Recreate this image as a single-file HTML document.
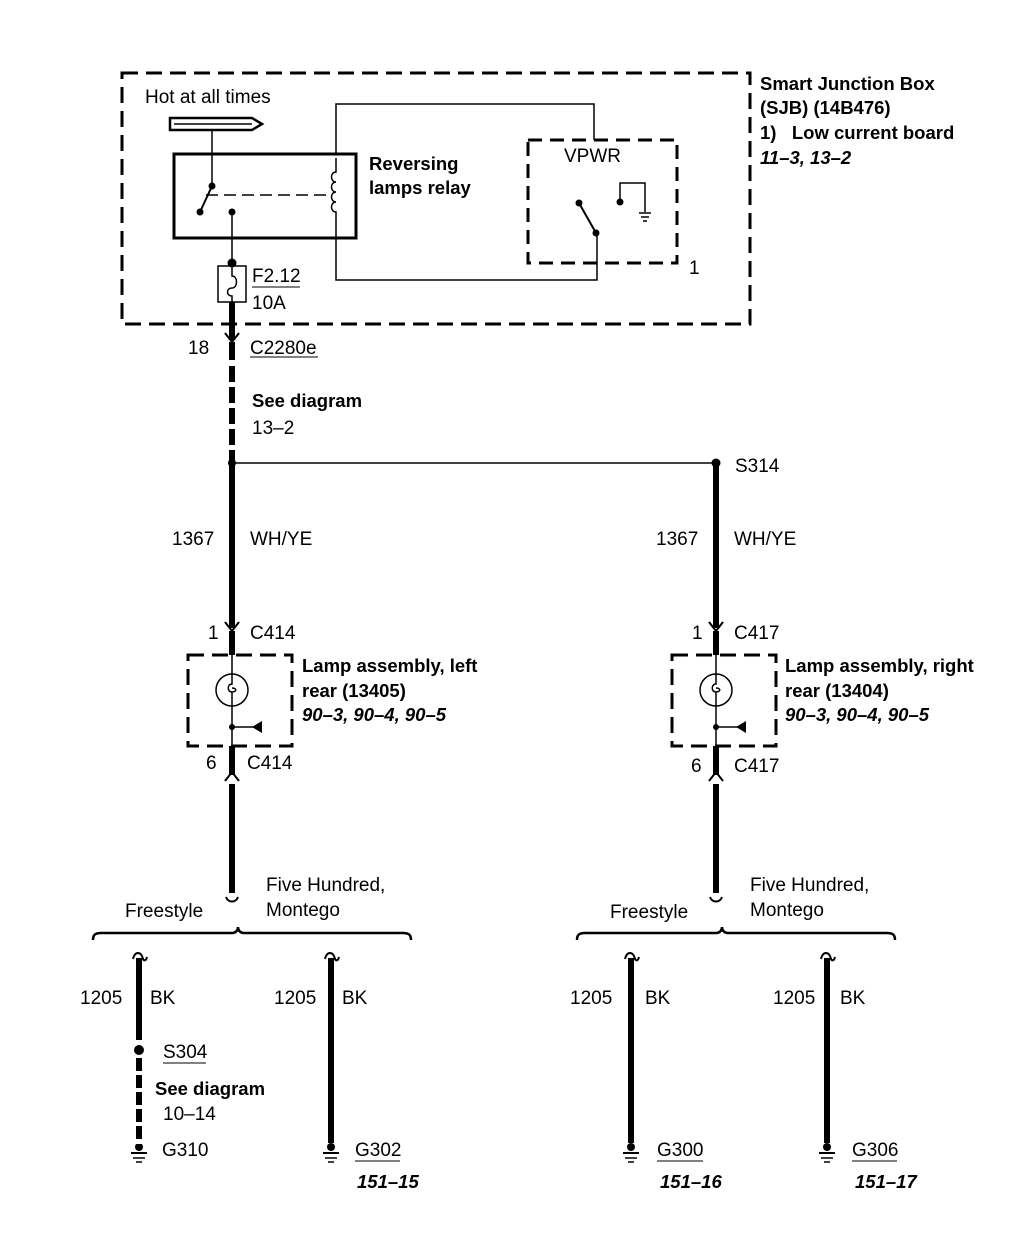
<!DOCTYPE html>
<html><head><meta charset="utf-8"><style>
html,body{margin:0;padding:0;background:#fff;}
svg{display:block;}
text{font-family:"Liberation Sans",Arial,sans-serif;font-size:19px;fill:#000;}
.b{font-weight:bold;font-size:18.5px;}
.i{font-weight:bold;font-style:italic;font-size:18.5px;}
</style></head><body>
<svg width="1022" height="1248" viewBox="0 0 1022 1248" xmlns="http://www.w3.org/2000/svg">
<g fill="none" stroke="#000">
<rect x="122" y="73" width="628" height="251" stroke-width="3" stroke-dasharray="16,8"/>
<path d="M170 118 H252 L262 124 L252 130 H170 Z" stroke-width="2.5"/>
<line x1="174" y1="124" x2="252" y2="124" stroke-width="1.5"/>
<line x1="212" y1="130" x2="212" y2="186" stroke-width="1.5"/>
<rect x="174" y="154" width="182" height="84" stroke-width="3"/>
<line x1="212" y1="186" x2="200" y2="212" stroke-width="2"/>
<line x1="206" y1="195" x2="330" y2="195" stroke-width="1.5" stroke-dasharray="12,6"/>
<path d="M336 158 V172 c-6 0 -6 10 0 10 c-6 0 -6 10 0 10 c-6 0 -6 10 0 10 c-6 0 -6 10 0 10 V238" stroke-width="1.5"/>
<line x1="232" y1="212" x2="232" y2="266" stroke-width="1.5"/>
<polyline points="336,154 336,104 594,104 594,140" stroke-width="1.5"/>
<polyline points="336,238 336,280 597,280 597,235" stroke-width="1.5"/>
<rect x="528" y="140" width="149" height="123" stroke-width="3" stroke-dasharray="14,8"/>
<line x1="579" y1="203" x2="596" y2="233" stroke-width="2"/>
<polyline points="620,202 620,183 645,183 645,212" stroke-width="1.5"/>
<line x1="639" y1="213" x2="651" y2="213" stroke-width="1.5"/>
<line x1="641" y1="217" x2="649" y2="217" stroke-width="1.5"/>
<line x1="643" y1="221" x2="647" y2="221" stroke-width="1.5"/>
<rect x="218" y="266" width="28" height="36" stroke-width="1.5"/>
<path d="M232 266 V276 c6 0 6 12 0 12 c-6 0 -6 8 0 8 V302" stroke-width="1.5"/>
<line x1="232" y1="302" x2="232" y2="340" stroke-width="6"/>
<path d="M225 333 L232 342 L239 333" stroke-width="2"/>
<line x1="232" y1="342" x2="232" y2="360" stroke-width="6"/>
<line x1="232" y1="366" x2="232" y2="460" stroke-width="6" stroke-dasharray="16,5"/>
<line x1="232" y1="463" x2="716" y2="463" stroke-width="1.5"/>
<g id="asm">
<line x1="232" y1="466" x2="232" y2="628" stroke-width="6"/>
<path d="M225 622 L232 631 L239 622" stroke-width="2"/>
<line x1="232" y1="631" x2="232" y2="655" stroke-width="6"/>
<rect x="188" y="655" width="104" height="91" stroke-width="3" stroke-dasharray="16,8"/>
<line x1="232" y1="655" x2="232" y2="746" stroke-width="1.5"/>
<circle cx="232" cy="690" r="16" stroke-width="1.5" fill="#fff"/>
<path d="M232 674 V684 c-5 0 -5 8 0 8 c5 0 5 -4 0 -4 M232 692 V706" stroke-width="1.5"/>
<line x1="232" y1="727" x2="256" y2="727" stroke-width="1.5"/>
<line x1="232" y1="746" x2="232" y2="775" stroke-width="6"/>
<path d="M225 781 L232 772 L239 781" stroke-width="2"/>
<line x1="232" y1="784" x2="232" y2="893" stroke-width="6"/>
<path d="M226 897 c2 6 10 6 12 0" stroke-width="2"/>
<path d="M93 940 c0 -5 2 -7 8 -7 H232 c4 0 6 -3 6 -6 c0 3 2 6 6 6 H403 c6 0 8 2 8 7" stroke-width="2.5"/>
</g>
<use href="#asm" transform="translate(484,0)"/>
</g>
<g fill="#000">
<circle cx="212" cy="186" r="3.5"/><circle cx="200" cy="212" r="3.5"/><circle cx="232" cy="212" r="3.5"/>
<circle cx="232" cy="263" r="4.5"/>
<circle cx="579" cy="203" r="3.5"/><circle cx="596" cy="233" r="3.5"/><circle cx="620" cy="202" r="3.5"/>
<circle cx="232" cy="463" r="4"/><circle cx="716" cy="463" r="4.5"/>
<circle cx="232" cy="727" r="3"/><circle cx="716" cy="727" r="3"/>
<path d="M262 721 L252 727 L262 733 Z"/><path d="M746 721 L736 727 L746 733 Z"/>
</g>
<g id="gw" fill="none" stroke="#000">
<path d="M133 959 c2 -8 8 -8 10 0 c1 2 3 2 4 -2" stroke-width="2"/>
<line x1="139" y1="958" x2="139" y2="1143" stroke-width="6"/>
<circle cx="139" cy="1147" r="4" fill="#000" stroke="none"/>
<line x1="131" y1="1153" x2="147" y2="1153" stroke-width="2"/>
<line x1="133" y1="1158" x2="145" y2="1158" stroke-width="1.5"/>
<line x1="136" y1="1162" x2="142" y2="1162" stroke-width="1.5"/>
</g>
<use href="#gw" transform="translate(192,0)"/>
<use href="#gw" transform="translate(492,0)"/>
<use href="#gw" transform="translate(688,0)"/>
<rect x="132" y="1040" width="14" height="104" fill="#fff"/>
<circle cx="139" cy="1050" r="5" fill="#000"/>
<line x1="139" y1="1058" x2="139" y2="1143" stroke="#000" stroke-width="6" stroke-dasharray="13,4"/>
<g stroke="#000" stroke-width="1">
<line x1="252" y1="287" x2="300" y2="287"/>
<line x1="250" y1="357" x2="318" y2="357"/>
<line x1="163" y1="1063" x2="206" y2="1063"/>
<line x1="355" y1="1161" x2="400" y2="1161"/>
<line x1="657" y1="1161" x2="703" y2="1161"/>
<line x1="852" y1="1161" x2="897" y2="1161"/>
</g>
<text x="145" y="103">Hot at all times</text>
<text class="b" x="369" y="170">Reversing</text>
<text class="b" x="369" y="194">lamps relay</text>
<text x="564" y="162" font-size="16">VPWR</text>
<text x="689" y="274" font-size="16">1</text>
<text class="b" x="760" y="90">Smart Junction Box</text>
<text class="b" x="760" y="114">(SJB) (14B476)</text>
<text class="b" x="760" y="139">1)&#160;&#160;&#160;Low current board</text>
<text class="i" x="760" y="164">11–3, 13–2</text>
<text x="252" y="282">F2.12</text>
<text x="252" y="309">10A</text>
<text x="188" y="354">18</text>
<text x="250" y="354">C2280e</text>
<text class="b" x="252" y="407">See diagram</text>
<text x="252" y="434">13–2</text>
<text x="735" y="472">S314</text>
<text x="172" y="545">1367</text><text x="250" y="545">WH/YE</text>
<text x="656" y="545">1367</text><text x="734" y="545">WH/YE</text>
<text x="208" y="639">1</text><text x="250" y="639">C414</text>
<text x="692" y="639">1</text><text x="734" y="639">C417</text>
<text class="b" x="302" y="672">Lamp assembly, left</text>
<text class="b" x="302" y="697">rear (13405)</text>
<text class="i" x="302" y="721">90–3, 90–4, 90–5</text>
<text class="b" x="785" y="672">Lamp assembly, right</text>
<text class="b" x="785" y="697">rear (13404)</text>
<text class="i" x="785" y="721">90–3, 90–4, 90–5</text>
<text x="206" y="769">6</text><text x="247" y="769">C414</text>
<text x="691" y="772">6</text><text x="734" y="772">C417</text>
<text x="266" y="891">Five Hundred,</text><text x="266" y="916">Montego</text>
<text x="125" y="917">Freestyle</text>
<text x="750" y="891">Five Hundred,</text><text x="750" y="916">Montego</text>
<text x="610" y="918">Freestyle</text>
<text x="80" y="1004">1205</text><text x="150" y="1004">BK</text>
<text x="274" y="1004">1205</text><text x="342" y="1004">BK</text>
<text x="570" y="1004">1205</text><text x="645" y="1004">BK</text>
<text x="773" y="1004">1205</text><text x="840" y="1004">BK</text>
<text x="163" y="1058">S304</text>
<text class="b" x="155" y="1095">See diagram</text>
<text x="163" y="1120">10–14</text>
<text x="162" y="1156">G310</text>
<text x="355" y="1156">G302</text>
<text class="i" x="357" y="1188">151–15</text>
<text x="657" y="1156">G300</text>
<text class="i" x="660" y="1188">151–16</text>
<text x="852" y="1156">G306</text>
<text class="i" x="855" y="1188">151–17</text>
</svg>
</body></html>
